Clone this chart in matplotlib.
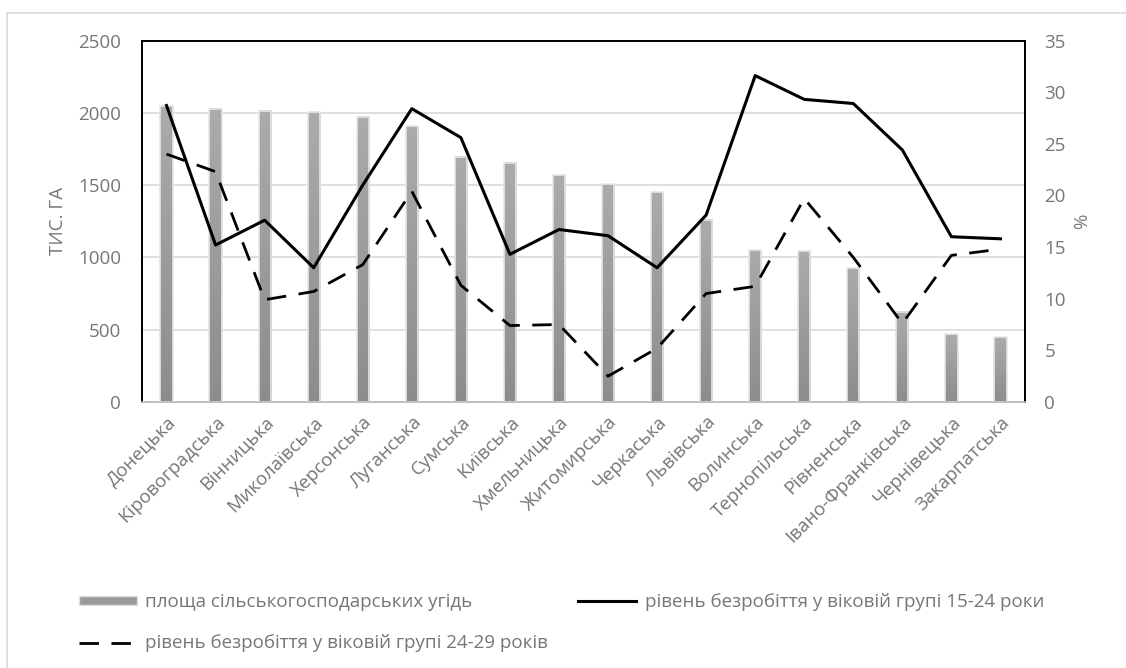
import numpy as np
import matplotlib.pyplot as plt
from matplotlib.patches import Rectangle
from matplotlib.lines import Line2D

plt.rcParams['font.family'] = ['Open Sans', 'DejaVu Sans']

regions = ["Донецька", "Кіровоградська", "Вінницька", "Миколаївська", "Херсонська",
           "Луганська", "Сумська", "Київська", "Хмельницька", "Житомирська",
           "Черкаська", "Львівська", "Волинська", "Тернопільська", "Рівненська",
           "Івано-Франківська", "Чернівецька", "Закарпатська"]

# площа сільськогосподарських угідь, тис. га
area = [2045, 2029, 2015, 2003, 1971, 1907, 1695, 1653, 1567, 1507,
        1450, 1260, 1048, 1041, 926, 625, 469, 448]
# рівень безробіття, %
unemp_15_24 = [28.7, 15.2, 17.6, 13.0, 21.0, 28.4, 25.6, 14.3, 16.7, 16.1,
               13.0, 18.1, 31.6, 29.3, 28.9, 24.4, 16.0, 15.8]
unemp_24_29 = [24.0, 22.3, 9.9, 10.7, 13.3, 20.4, 11.3, 7.4, 7.5, 2.5,
               5.2, 10.5, 11.2, 19.7, 14.0, 7.6, 14.2, 14.8]

label_area = "площа сільськогосподарських угідь"
label_15 = "рівень безробіття у віковій групі 15-24 роки"
label_24 = "рівень безробіття у віковій групі 24-29 років"

text_grey = '#767676'
fs = 13.5

fig = plt.figure(figsize=(11.26, 6.68), dpi=100)
# outer chart border (only top/left visible in the crop)
fig.patches.append(Rectangle((7 / 1126, -0.1), 1.2, 1.1 - 13 / 668, transform=fig.transFigure,
                             fill=False, edgecolor='#d9d9d9', linewidth=1.2))

ax = fig.add_axes([142 / 1126, 1 - 402 / 668, (1025 - 142) / 1126, (402 - 40.5) / 668])
x = np.arange(len(regions))
width = 0.25

ax.grid(axis='y', color='#d9d9d9', linewidth=1.2)
ax.set_axisbelow(True)

bars = ax.bar(x, area, width, color='none', edgecolor='#e6e6e6', linewidth=1.2, zorder=3)
grad = np.linspace(0.67, 0.55, 256).reshape(-1, 1)
for b in bars:
    x0 = b.get_x()
    ax.imshow(grad, extent=[x0, x0 + b.get_width(), 0, b.get_height()], aspect='auto',
              cmap='gray', vmin=0, vmax=1, origin='upper', zorder=2)
ax.set_xlim(-0.5, len(regions) - 0.5)
ax.set_ylim(0, 2500)
ax.set_yticks(np.arange(0, 2501, 500))

ax.set_xticks(x)
ax.set_xticklabels(regions, rotation=45, ha='right', rotation_mode='anchor',
                   fontsize=fs, color=text_grey)
ax.tick_params(axis='both', length=0, labelsize=fs, labelcolor=text_grey)
ax.tick_params(axis='y', pad=15)
ax.tick_params(axis='x', pad=8)
ax.set_ylabel("ТИС. ГА", fontsize=fs, color=text_grey, labelpad=8)

ax2 = ax.twinx()
ax2.set_ylim(0, 35)
ax2.set_yticks(np.arange(0, 36, 5))
ax2.plot(x, unemp_15_24, color='black', linewidth=2.2, zorder=4)
dashed, = ax2.plot(x, unemp_24_29, color='black', linewidth=2.0, zorder=4)
dashed.set_dashes((7, 4.5))
ax2.tick_params(axis='y', length=0, labelsize=fs, labelcolor=text_grey, pad=14)
ax2.set_ylabel("%", fontsize=fs, color=text_grey, labelpad=5)

for a in (ax, ax2):
    for s in ('left', 'right', 'top'):
        a.spines[s].set_color('black')
        a.spines[s].set_linewidth(1.3)
    a.spines['bottom'].set_color('#bfbfbf')
    a.spines['bottom'].set_linewidth(1.2)

handles = [
    Rectangle((0, 0), 1, 1, facecolor='#9a9a9a', edgecolor='#e0e0e0'),
    Line2D([], [], color='black', linewidth=2.0, dashes=(7, 4.5)),
    Line2D([], [], color='black', linewidth=2.2),
]
fig.legend(handles, [label_area, label_24, label_15], ncol=2, frameon=False,
           loc='upper left', bbox_to_anchor=(62 / 1126, 1 - 576 / 668),
           fontsize=fs, labelcolor=text_grey, handlelength=3.1, handleheight=0.35,
           handletextpad=0.45, columnspacing=1.6, labelspacing=1.25)

fig.savefig('out.png', dpi=100)
